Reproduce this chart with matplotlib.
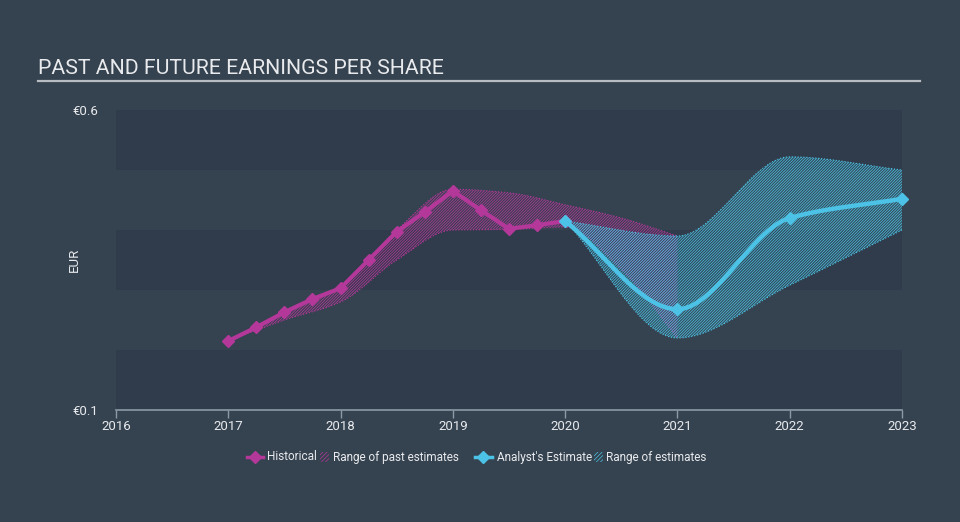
import numpy as np
import matplotlib
matplotlib.use("Agg")
import matplotlib.pyplot as plt
from matplotlib.lines import Line2D
from matplotlib.patches import Rectangle

# ── data ──────────────────────────────────────────────────────────────────────
hist_x = [2017.0, 2017.25, 2017.5, 2017.75, 2018.0, 2018.25, 2018.5, 2018.75,
          2019.0, 2019.25, 2019.5, 2019.75, 2020.0]
hist_y = [0.215, 0.238, 0.263, 0.285, 0.303, 0.350, 0.397, 0.430,
          0.465, 0.433, 0.402, 0.408, 0.415]

past_x = [2017.0, 2017.5, 2018.0, 2018.5, 2019.0, 2019.5, 2020.0, 2020.5, 2021.0]
past_hi = [0.215, 0.262, 0.305, 0.400, 0.468, 0.462, 0.442, 0.420, 0.390]
past_lo = [0.215, 0.250, 0.280, 0.350, 0.400, 0.401, 0.405, 0.335, 0.220]

est_x = [2020.0, 2021.0, 2022.0, 2023.0]
est_y = [0.415, 0.268, 0.420, 0.452]

rng_x = [2020.0, 2021.0, 2022.0, 2023.0]
rng_hi = [0.415, 0.390, 0.522, 0.500]
rng_lo = [0.415, 0.220, 0.308, 0.400]

years = [2016, 2017, 2018, 2019, 2020, 2021, 2022, 2023]

BG = "#35424f"
DARK = "#303c4b"
PINK = "#b3389a"
BLUE = "#4cc3e6"
TXT = "#e8eaed"


def pchip(x, y, n=200):
    # monotone cubic, only used to draw smooth curves through the read points
    x = np.asarray(x, float); y = np.asarray(y, float)
    h = np.diff(x); d = np.diff(y) / h
    m = np.zeros_like(y)
    for k in range(1, len(x) - 1):
        if d[k-1] * d[k] > 0:
            w1 = 2*h[k] + h[k-1]; w2 = h[k] + 2*h[k-1]
            m[k] = (w1 + w2) / (w1/d[k-1] + w2/d[k])
    m[0] = d[0]; m[-1] = d[-1]
    xs = np.linspace(x[0], x[-1], n)
    i = np.clip(np.searchsorted(x, xs) - 1, 0, len(h) - 1)
    t = (xs - x[i]) / h[i]
    h00 = 2*t**3 - 3*t**2 + 1; h10 = t**3 - 2*t**2 + t
    h01 = -2*t**3 + 3*t**2; h11 = t**3 - t**2
    ys = h00*y[i] + h10*h[i]*m[i] + h01*y[i+1] + h11*h[i]*m[i+1]
    return xs, ys


plt.rcParams["font.family"] = ["Roboto", "DejaVu Sans"]
plt.rcParams["hatch.linewidth"] = 0.5

fig = plt.figure(figsize=(9.6, 5.22), dpi=100)
fig.patch.set_facecolor(BG)
ax = fig.add_axes([116/960, 1 - 410/522, (902-116)/960, 300/522])
ax.set_facecolor(BG)

for lo in (0.1, 0.3, 0.5):
    ax.axhspan(lo, lo + 0.1, color=DARK, lw=0, zorder=0)

# past estimate range
px, phi = pchip(past_x, past_hi)
_, plo = pchip(past_x, past_lo)
ax.fill_between(px, plo, phi, facecolor=(0.70, 0.22, 0.60, 0.06),
                edgecolor=PINK, hatch="/" * 12, linewidth=0, zorder=2)
ax.plot(px, phi, color=PINK, lw=0.8, ls=":", zorder=2)
ax.plot(px, plo, color=PINK, lw=0.8, ls=":", zorder=2)

# future estimate range
rx, rhi = pchip(rng_x, rng_hi)
_, rlo = pchip(rng_x, rng_lo)
ax.fill_between(rx, rlo, rhi, facecolor=(0.30, 0.76, 0.90, 0.10),
                edgecolor=BLUE, hatch="/" * 12, linewidth=0, zorder=3)
ax.plot(rx, rhi, color=BLUE, lw=0.8, ls=":", zorder=3)
ax.plot(rx, rlo, color=BLUE, lw=0.8, ls=":", zorder=3)

# historical
ax.plot(hist_x, hist_y, color=PINK, lw=3, marker="D", ms=6.5,
        zorder=5, clip_on=False)

# analyst estimate
ex, ey = pchip(est_x, est_y)
ax.plot(ex, ey, color=BLUE, lw=3.2, zorder=6, clip_on=False)
ax.plot(est_x, est_y, ls="none", color=BLUE, marker="D", ms=6.5,
        zorder=6, clip_on=False)

ax.set_xlim(2016, 2023)
ax.set_ylim(0.1, 0.6)
ax.set_xticks(years)
ax.set_xticklabels([str(y) for y in years])
ax.set_yticks([0.1, 0.6])
ax.set_yticklabels(["€0.1", "€0.6"])
for sp in ("top", "right", "left"):
    ax.spines[sp].set_visible(False)
ax.spines["bottom"].set_color("#8c9aa8")
ax.spines["bottom"].set_linewidth(1.2)
ax.tick_params(axis="x", colors="#8c9aa8", labelcolor=TXT, labelsize=9.5,
               length=6, width=1, pad=1)
ax.tick_params(axis="y", length=0, labelcolor=TXT, labelsize=9.5, pad=13)
ax.set_ylabel("EUR", color=TXT, fontsize=9.5)
ax.yaxis.set_label_coords(-0.045, 0.5)

# title + rule
fig.text(38/960, 1 - 68/522, "PAST AND FUTURE EARNINGS PER SHARE",
         color=TXT, fontsize=15.3, va="center", ha="left")
fig.add_artist(Line2D([38/960, 920/960], [1 - 81/522, 1 - 81/522],
                      color="#b7bcc2", lw=1.6))

# legend, laid out by hand
ly = 1 - 457/522
fig.add_artist(Line2D([247/960, 263/960], [ly, ly], color=PINK, lw=2.5,
                      transform=fig.transFigure))
fig.add_artist(Line2D([255/960], [ly], color=PINK, marker="D", ms=6,
                      transform=fig.transFigure))
fig.text(267/960, ly, "Historical", color=TXT, fontsize=8.5, va="center")
fig.add_artist(Rectangle((320/960, ly - 5/522), 9/960, 10/522,
                         facecolor="none", edgecolor=PINK, hatch="/" * 8,
                         lw=0, transform=fig.transFigure))
fig.text(333/960, ly, "Range of past estimates", color=TXT, fontsize=8.5,
         va="center")
fig.add_artist(Line2D([475/960, 492/960], [ly, ly], color=BLUE, lw=2.5,
                      transform=fig.transFigure))
fig.add_artist(Line2D([483/960], [ly], color=BLUE, marker="D", ms=6,
                      transform=fig.transFigure))
fig.text(497/960, ly, "Analyst's Estimate", color=TXT, fontsize=8.5,
         va="center")
fig.add_artist(Rectangle((594/960, ly - 5/522), 9/960, 10/522,
                         facecolor="none", edgecolor=BLUE, hatch="/" * 8,
                         lw=0, transform=fig.transFigure))
fig.text(606/960, ly, "Range of estimates", color=TXT, fontsize=8.5,
         va="center")

fig.savefig("out.png", dpi=100, facecolor=BG)
